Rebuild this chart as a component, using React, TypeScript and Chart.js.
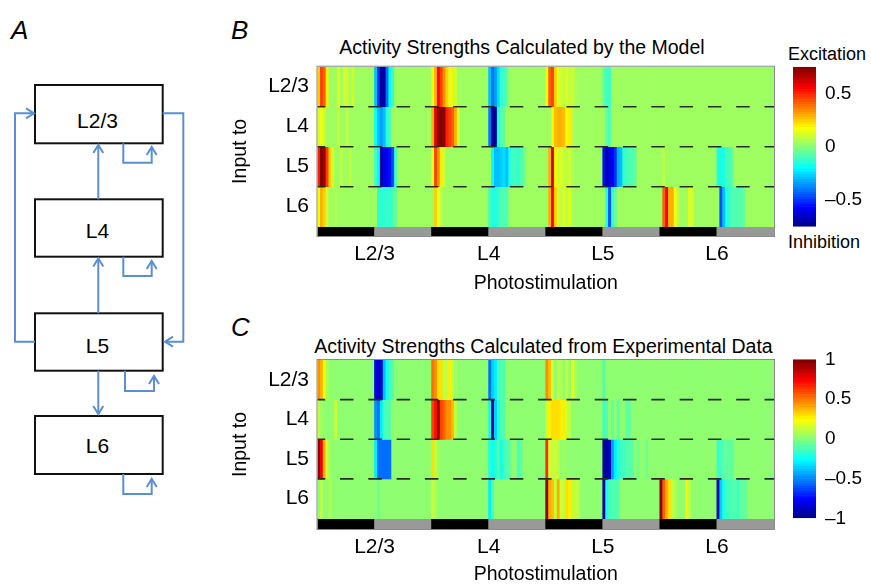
import React, { useEffect, useRef } from 'react';
import { Chart, registerables } from 'chart.js';

Chart.register(...registerables);

const FONT = '"Liberation Sans", Arial, Helvetica, sans-serif';
Chart.defaults.font.family = FONT;
Chart.defaults.color = '#000';

// ---------- data ----------
const LAYERS = ['L2/3', 'L4', 'L5', 'L6'];
const ROW_TICKS = [3.5, 2.5, 1.5, 0.5];
const ROW_BOUNDARIES = [1, 2, 3];
const GROUP_TICKS = [20, 60, 100, 140];
const COLS_PER_HALF = 20;
const STIM_SHADES = ['#000000', '#999999', '#000000', '#999999', '#000000', '#999999', '#000000', '#999999'];
const MODEL_CB_TICKS = [0.5, 0, -0.5];
const EXP_CB_TICKS = [1, 0.5, 0, -0.5, -1];
const MODEL_RANGE = 0.75;
const EXP_RANGE = 1;

// Panel B: model (rows: input to L2/3, L4, L5, L6; 160 columns = 4 stim layers x 2 halves x 20)
const MODEL_L23 = [
  0.25,0.45,0.4,0.2,0.03,0.03,0.03,0.12,0.03,0.1,
  0.1,0.03,0.1,0.03,0.03,0.03,0.03,0.03,0.03,0.03,
  -0.3,-0.5,-0.72,-0.72,-0.4,-0.2,-0.1,0.03,0.03,0.03,
  0.03,0.03,0.03,0.03,0.03,0.03,0.03,0.03,0.03,0.03,
  0.15,0.3,0.55,0.45,0.35,0.25,0.12,0.2,0.1,0.03,
  0.03,0.03,0.03,0.03,0.03,0.03,0.03,0.03,0.03,0.03,
  -0.3,-0.42,-0.35,-0.25,-0.12,-0.1,-0.05,0.03,0.03,0.03,
  0.03,0.03,0.03,0.03,0.03,0.03,0.03,0.03,0.03,0.03,
  0.15,0.4,0.45,0.25,0.12,0.1,0.08,0.12,0.08,0.1,
  0.05,0.03,0.03,0.03,0.03,0.03,0.03,0.03,0.03,0.03,
  -0.05,-0.1,-0.1,0.03,0.03,0.03,0.03,0.03,0.03,0.03,
  0.03,0.03,0.03,0.03,0.03,0.03,0.03,0.03,0.03,0.03,
  0.03,0.03,0.03,0.03,0.03,0.03,0.03,0.03,0.03,0.03,
  0.03,0.03,0.03,0.03,0.03,0.03,0.03,0.03,0.03,0.03,
  0.03,0.03,0.03,0.03,0.03,0.03,0.03,0.03,0.03,0.03,
  0.03,0.03,0.03,0.03,0.03,0.03,0.03,0.03,0.03,0.03,
];
const MODEL_L4 = [
  0.1,0.15,0.1,0.03,0.03,0.03,0.03,0.08,0.03,0.03,
  0.08,0.03,0.03,0.03,0.03,0.03,0.03,0.03,0.03,0.03,
  -0.2,-0.3,-0.35,-0.3,-0.15,-0.08,0.03,0.03,0.03,0.03,
  0.03,0.03,0.03,0.03,0.03,0.03,0.03,0.03,0.03,0.03,
  0.3,0.6,0.75,0.75,0.72,0.5,0.45,0.4,0.3,0.1,
  0.03,0.03,0.03,0.03,0.03,0.03,0.03,0.03,0.03,0.03,
  -0.4,-0.75,-0.72,-0.15,-0.08,-0.05,0.03,0.03,0.03,0.03,
  0.03,0.03,0.03,0.03,0.03,0.03,0.03,0.03,0.03,0.03,
  0.03,0.03,0.15,0.28,0.3,0.3,0.28,0.15,0.2,0.08,
  0.03,0.03,0.03,0.03,0.03,0.03,0.03,0.03,0.03,0.03,
  0.03,-0.05,-0.08,0.03,0.03,0.03,0.03,0.03,0.03,0.03,
  0.03,0.03,0.03,0.03,0.03,0.03,0.03,0.03,0.03,0.03,
  0.03,0.03,0.03,0.03,0.03,0.03,0.03,0.03,0.03,0.03,
  0.03,0.03,0.03,0.03,0.03,0.03,0.03,0.03,0.03,0.03,
  0.03,0.03,0.03,0.03,0.03,0.03,0.03,0.03,0.03,0.03,
  0.03,0.03,0.03,0.03,0.03,0.03,0.03,0.03,0.03,0.03,
];
const MODEL_L5 = [
  0.5,0.75,0.7,0.45,0.25,0.1,0.03,0.03,0.08,0.03,
  0.03,0.08,0.03,0.03,0.03,0.03,0.03,0.03,0.03,0.03,
  -0.1,-0.2,-0.68,-0.6,-0.6,-0.55,-0.45,-0.1,0.03,0.03,
  0.03,0.03,0.03,0.03,0.03,0.03,0.03,0.03,0.03,0.03,
  0.15,0.45,0.35,0.2,0.1,0.03,0.03,0.03,0.03,0.03,
  0.03,0.03,0.03,0.03,0.03,0.03,0.03,0.03,0.03,0.03,
  0.03,-0.2,-0.3,-0.3,-0.28,-0.25,-0.3,-0.15,-0.1,-0.1,
  -0.12,-0.08,-0.05,0.03,0.03,0.03,0.03,0.03,0.03,0.03,
  0.03,0.3,0.62,0.2,0.1,0.12,0.08,0.08,0.1,0.05,
  0.03,0.03,0.03,0.03,0.03,0.03,0.03,0.03,0.03,0.03,
  -0.55,-0.68,-0.62,-0.6,-0.5,-0.32,-0.3,-0.12,-0.1,-0.08,
  -0.08,-0.05,0.03,0.03,0.03,0.03,0.03,0.03,0.03,0.03,
  0.03,0.08,0.03,0.03,0.03,0.03,0.03,0.03,0.03,0.03,
  0.03,0.03,0.03,0.03,0.03,0.03,0.03,0.03,0.03,0.03,
  -0.15,-0.18,-0.15,-0.1,-0.1,-0.05,0.03,0.03,0.03,0.03,
  0.03,0.03,0.03,0.03,0.03,0.03,0.03,0.03,0.03,0.03,
];
const MODEL_L6 = [
  0.15,0.3,0.25,0.1,0.03,0.03,0.06,0.03,0.03,0.03,
  0.03,0.03,0.03,0.03,0.03,0.03,0.03,0.03,0.03,0.03,
  0.03,-0.12,-0.12,-0.12,-0.12,-0.12,-0.1,-0.05,0.03,0.03,
  0.03,0.03,0.03,0.03,0.03,0.03,0.03,0.03,0.03,0.03,
  0.03,0.25,0.15,0.08,0.03,0.03,0.03,0.03,0.03,0.03,
  0.03,0.03,0.03,0.03,0.03,0.03,0.03,0.03,0.03,0.03,
  -0.1,-0.15,-0.15,-0.12,-0.08,-0.08,-0.08,0.03,0.03,0.03,
  0.03,0.03,0.03,0.03,0.03,0.03,0.03,0.03,0.03,0.03,
  0.03,0.3,0.55,0.25,0.1,0.08,0.12,0.08,0.12,0.06,
  0.03,0.03,0.03,0.03,0.03,0.03,0.03,0.03,0.03,0.03,
  0.03,-0.15,-0.45,-0.12,-0.05,0.03,0.03,0.03,0.03,0.03,
  0.03,0.03,0.03,0.03,0.03,0.03,0.03,0.03,0.03,0.03,
  0.03,0.4,0.55,0.3,0.3,0.15,0.08,0.03,0.03,0.03,
  0.12,0.1,0.03,0.03,0.03,0.03,0.03,0.03,0.03,0.03,
  0.03,-0.45,-0.3,-0.15,-0.12,-0.08,-0.08,-0.08,-0.08,-0.05,
  0.03,0.03,0.03,0.03,0.03,0.03,0.03,0.03,0.03,0.03,
];

// Panel C: experimental data
const EXP_L23 = [
  0.45,0.4,0.2,0.08,0,0,0,0,0,0,
  0,0,0,0,0,0,0,0,0,0,
  -0.8,-0.9,-0.85,-0.4,-0.25,-0.15,-0.1,0,0,0,
  0,0,0,0,0,0,0,0,0,0,
  0.5,0.45,0.3,0.3,0.12,0.12,0.25,0.12,0.05,0,
  0,0,0,0,0,0,0,0,0,0,
  -0.55,-0.35,-0.3,-0.15,-0.12,-0.1,0,0,0,0,
  0,0,0,0,0,0,0,0,0,0,
  0.45,0.35,0.15,0,0.1,0.08,0,0.1,0,0.2,
  0.08,0,0,0,0,0,0,0,0,0,
  -0.12,0,0,0,0,0,0,0,0,0,
  0,0,0,0,0,0,0,0,0,0,
  0,0,0,0,0,0,0,0,0,0,
  0,0,0,0,0,0,0,0,0,0,
  0,0,0,0,0,0,0,0,0,0,
  0,0,0,0,0,0,0,0,0,0,
];
const EXP_L4 = [
  0.1,0.05,0,0,0,0,0.15,0,0,0,
  0,0,0,0,0,0,0,0,0,0,
  -0.5,-0.55,-0.3,-0.15,-0.12,-0.1,0,0,0,0,
  0,0,0,0,0,0,0,0,0,0,
  0.6,0.7,0.95,0.6,0.55,0.45,0.45,0.35,0.12,0,
  0,0,0,0,0,0,0,0,0,0,
  -0.25,-0.95,-0.35,-0.2,-0.12,-0.1,0,0,0,0,
  0,0,0,0,0,0,0,0,0,0,
  0.15,0.28,0.3,0.3,0.3,0.25,0.25,0.15,0.1,0,
  0,0,0,0,0,0,0,0,0,0,
  -0.15,-0.1,0,-0.08,0,-0.08,0,0,-0.08,-0.08,
  0,0,0,0,0,0,0,0,0,0,
  0,0,0,0,0,0,0,0,0,0,
  0,0,0,0,0,0,0,0,0,0,
  0,0,0,0,0,0,0,0,0,0,
  0,0,0,0,0,0,0,0,0,0,
];
const EXP_L5 = [
  0.95,0.75,0.4,0.15,0.05,0,0,0,0,0,
  0,0,0,0,0,0,0,0,0,0,
  -0.3,-0.55,-0.55,-0.55,-0.55,-0.55,0,0,0,0,
  0,0,0,0,0,0,0,0,0,0,
  0.3,0.12,0.05,0,0,0,0,0,0,0,
  0,0,0,0,0,0,0,0,0,0,
  -0.2,-0.25,-0.2,-0.12,-0.25,-0.15,-0.1,-0.08,0,0,
  -0.12,-0.08,0,0,0,0,0,0,0,0,
  0.65,0.15,0.1,0.15,0.1,0,0.05,0,0,0,
  0,0,0,0,0,0,0,0,0,0,
  -0.95,-0.95,-0.9,-0.45,-0.3,-0.2,-0.15,-0.15,-0.12,-0.1,
  -0.08,0,-0.05,0,0,-0.05,0,0,0,0,
  0,0,0,0,0,0,0,0,0,0,
  0,0,0,0,0,0,0,0,0,0,
  -0.15,-0.15,-0.08,-0.08,-0.08,-0.08,0,0,0,0,
  0,0,0,0,0,0,0,0,0,0,
];
const EXP_L6 = [
  0,0.12,0,0,0.08,0,0,0,0,0,
  0,0,0,0,0,0,0,0,0,0,
  0,-0.05,0,0,0,0,0,0,0,0,
  0,0,0,0,0,0,0,0,0,0,
  0.1,0.08,0,0,0,0,0,0,0,0,
  0,0,0,0,0,0,0,0,0,0,
  -0.3,-0.12,0,0,0,0,0,0,0,0,
  0,0,0,0,0,0,0,0,0,0,
  0.95,0.4,0.35,0.12,0.4,0.15,0.12,0.3,0.25,0.12,
  0.1,0.1,0,0,0,0,0,0,0,0,
  -0.95,-0.2,-0.15,-0.12,-0.1,-0.1,0,0,0,0,
  0,0,0,0,0,0,0,0,0,0,
  0.95,0.55,0.4,0.3,0.12,0.08,0,0,0,0.25,
  0.1,0,0,0,0,0,0,0,0,0,
  -0.9,-0.35,-0.2,-0.15,-0.15,-0.12,-0.1,-0.15,-0.08,-0.08,
  -0.05,0,0,0,0,0,0,0,0,0,
];

const MODEL_ROWS = [MODEL_L23, MODEL_L4, MODEL_L5, MODEL_L6];
const EXP_ROWS = [EXP_L23, EXP_L4, EXP_L5, EXP_L6];

// ---------- colour map (MATLAB jet, 64 levels) ----------
function jetU(k: number) {
  if (k < 1 || k > 47) return 0;
  if (k <= 16) return k / 16;
  if (k <= 31) return 1;
  return (48 - k) / 16;
}
function jetIndexColor(idx: number) {
  const r = idx >= 25 ? jetU(idx - 24) : 0;
  const g = idx >= 9 && idx <= 55 ? jetU(idx - 8) : 0;
  const b = idx <= 39 ? jetU(idx + 8) : 0;
  return `rgb(${Math.round(r * 255)},${Math.round(g * 255)},${Math.round(b * 255)})`;
}
function jet(v: number, min: number, max: number) {
  let idx = Math.floor(((v - min) / (max - min)) * 64) + 1;
  if (!isFinite(idx)) idx = 33;
  idx = Math.max(1, Math.min(64, idx));
  return jetIndexColor(idx);
}
function fmtTick(v: number) {
  if (v === 0) return '0';
  return v < 0 ? '\u2013' + String(Math.abs(v)) : String(v);
}

const framePlugin = {
  id: 'heatFrame',
  afterDatasetsDraw(chart: any) {
    const { ctx, chartArea: a, scales } = chart;
    const y = scales.y;
    ctx.save();
    ctx.strokeStyle = '#2a2a2a';
    ctx.lineWidth = 1.6;
    ctx.setLineDash([13.5, 14.8]);
    ctx.lineDashOffset = 5.8;
    for (const b of ROW_BOUNDARIES) {
      const py = y.getPixelForValue(b);
      ctx.beginPath();
      ctx.moveTo(a.left, py);
      ctx.lineTo(a.right, py);
      ctx.stroke();
    }
    ctx.setLineDash([]);
    ctx.strokeStyle = '#8c8c8c';
    ctx.lineWidth = 1;
    ctx.strokeRect(a.left - 0.5, a.top - 0.5, a.right - a.left + 1, a.bottom - a.top + 1);
    ctx.restore();
  },
};

type HeatProps = {
  rows: number[][];
  vmax: number;
  yMin: number;
  left: number; top: number; width: number; height: number;
  padTop: number; padRight: number;
  yAxisWidth: number; xAxisHeight: number; xTitlePadBottom: number;
};

function Heatmap(p: HeatProps) {
  const ref = useRef<HTMLCanvasElement>(null);
  useEffect(() => {
    if (!ref.current) return;
    const barStyle = {
      grouped: false, barPercentage: 1, categoryPercentage: 1,
      borderWidth: 0, inflateAmount: 0.4,
    };
    const datasets: any[] = p.rows.map((vals, r) => ({
      data: vals.map((_, i) => ({ x: i + 0.5, y: [LAYERS.length - 1 - r, LAYERS.length - r] })),
      backgroundColor: vals.map((v) => jet(v, -p.vmax, p.vmax)),
      ...barStyle,
    }));
    datasets.push({
      data: p.rows[0].map((_, i) => ({ x: i + 0.5, y: [p.yMin, 0] })),
      backgroundColor: p.rows[0].map((_, i) => STIM_SHADES[Math.floor(i / COLS_PER_HALF)]),
      ...barStyle,
    });
    const nCols = p.rows[0].length;
    const chart = new Chart(ref.current, {
      type: 'bar',
      data: { datasets },
      options: {
        animation: false,
        responsive: false,
        maintainAspectRatio: false,
        layout: { padding: { top: p.padTop, right: p.padRight, left: 0, bottom: 0 } },
        plugins: { legend: { display: false }, tooltip: { enabled: false }, title: { display: false } },
        scales: {
          x: {
            type: 'linear', min: 0, max: nCols, offset: false,
            grid: { display: false, drawTicks: false },
            border: { display: false },
            ticks: {
              autoSkip: false, maxRotation: 0, minRotation: 0, padding: 6,
              font: { size: 21 }, color: '#000',
              callback: (v: any) => {
                const k = GROUP_TICKS.indexOf(Number(v));
                return k >= 0 ? LAYERS[k] : '';
              },
            },
            title: { display: true, text: 'Photostimulation', font: { size: 19.5 }, color: '#000', padding: { top: 0, bottom: p.xTitlePadBottom } },
            afterBuildTicks: (s: any) => { s.ticks = GROUP_TICKS.map((v) => ({ value: v })); },
            afterFit: (s: any) => {
              s.height = p.xAxisHeight;
              s.paddingLeft = 0; s.paddingRight = 0; s.paddingTop = 0; s.paddingBottom = 0;
            },
          },
          y: {
            type: 'linear', min: p.yMin, max: LAYERS.length,
            grid: { display: false, drawTicks: false },
            border: { display: false },
            ticks: {
              autoSkip: false, padding: 8.5, font: { size: 21 }, color: '#000',
              callback: (v: any) => {
                const k = ROW_TICKS.indexOf(Number(v));
                return k >= 0 ? LAYERS[k] : '';
              },
            },
            title: { display: true, text: 'Input to', font: { size: 19.5 }, color: '#000', padding: { top: 14.3, bottom: 0 } },
            afterBuildTicks: (s: any) => { s.ticks = ROW_TICKS.map((v) => ({ value: v })); },
            afterFit: (s: any) => {
              s.width = p.yAxisWidth;
              s.paddingLeft = 0; s.paddingRight = 0; s.paddingTop = 0; s.paddingBottom = 0;
            },
          },
        },
      } as any,
      plugins: [framePlugin],
    });
    return () => chart.destroy();
  }, []);
  return (
    <canvas
      ref={ref}
      width={p.width}
      height={p.height}
      style={{ position: 'absolute', left: p.left, top: p.top, width: p.width, height: p.height }}
    />
  );
}

type CbProps = {
  vmax: number; ticks: number[];
  left: number; top: number; width: number; height: number;
  padLeft: number; padTop: number; padBottom: number; axisWidth: number;
};

function Colorbar(p: CbProps) {
  const ref = useRef<HTMLCanvasElement>(null);
  useEffect(() => {
    if (!ref.current) return;
    const chart = new Chart(ref.current, {
      type: 'bar',
      data: {
        labels: [''],
        datasets: [{
          data: [[-p.vmax, p.vmax]] as any,
          backgroundColor: (c: any) => {
            const area = c.chart.chartArea;
            if (!area) return 'transparent';
            const g = c.chart.ctx.createLinearGradient(0, area.bottom, 0, area.top);
            for (let i = 1; i <= 64; i++) {
              const col = jetIndexColor(i);
              g.addColorStop((i - 1) / 64, col);
              g.addColorStop(Math.min(1, i / 64 - 0.0001), col);
            }
            return g;
          },
          barPercentage: 1, categoryPercentage: 1, borderWidth: 0, inflateAmount: 0,
        }],
      },
      options: {
        animation: false,
        responsive: false,
        maintainAspectRatio: false,
        layout: { padding: { left: p.padLeft, top: p.padTop, bottom: p.padBottom, right: 0 } },
        plugins: { legend: { display: false }, tooltip: { enabled: false } },
        scales: {
          x: { display: false },
          y: {
            position: 'right', min: -p.vmax, max: p.vmax,
            grid: { display: false, drawTicks: false },
            border: { display: false },
            ticks: { autoSkip: false, padding: 9, font: { size: 19 }, color: '#000', callback: (v: any) => fmtTick(Number(v)) },
            afterBuildTicks: (s: any) => { s.ticks = p.ticks.map((v) => ({ value: v })); },
            afterFit: (s: any) => {
              s.width = p.axisWidth;
              s.paddingTop = 0; s.paddingBottom = 0; s.paddingLeft = 0; s.paddingRight = 0;
            },
          },
        },
      } as any,
    });
    return () => chart.destroy();
  }, []);
  return (
    <canvas
      ref={ref}
      width={p.width}
      height={p.height}
      style={{ position: 'absolute', left: p.left, top: p.top, width: p.width, height: p.height }}
    />
  );
}

const BLUE = '#5a8fd0';

function Diagram() {
  const boxes = [
    { label: 'L2/3', y: 85, h: 58.3, ty: 127.5 },
    { label: 'L4', y: 199.3, h: 57.4, ty: 238 },
    { label: 'L5', y: 313.3, h: 57.4, ty: 353 },
    { label: 'L6', y: 416, h: 58, ty: 453 },
  ];
  return (
    <svg width={210} height={520} style={{ position: 'absolute', left: 0, top: 0 }}>
      {boxes.map((b) => (
        <g key={b.label}>
          <rect x={35} y={b.y} width={127.7} height={b.h} fill="#fff" stroke="#111" strokeWidth={2} />
          <text x={97.5} y={b.ty} fontSize={21} textAnchor="middle" fontFamily={FONT} fill="#000">{b.label}</text>
        </g>
      ))}
      <g fill="none" stroke={BLUE} strokeWidth={2}>
        <polyline points="35,341.7 15,341.7 15,113.3 34,113.3" />
        <polyline points="26,108.3 34,113.3 26,118.3" />
        <polyline points="162.7,113.3 183.3,113.3 183.3,341.7 165,341.7" />
        <polyline points="173,336.7 165,341.7 173,346.7" />
        <polyline points="98.3,199.3 98.3,145" />
        <polyline points="93.3,153 98.3,145 103.3,153" />
        <polyline points="98.3,313.3 98.3,258.5" />
        <polyline points="93.3,266.5 98.3,258.5 103.3,266.5" />
        <polyline points="98.3,370.7 98.3,414" />
        <polyline points="93.3,406 98.3,414 103.3,406" />
        <polyline points="123.3,143.3 123.3,162.7 151.7,162.7 151.7,147" />
        <polyline points="146.7,155 151.7,147 156.7,155" />
        <polyline points="123.3,256.7 123.3,276 151.7,276 151.7,261" />
        <polyline points="146.7,269 151.7,261 156.7,269" />
        <polyline points="125,370.7 125,391 154,391 154,376" />
        <polyline points="149,384 154,376 159,384" />
        <polyline points="123.3,474 123.3,494 151.7,494 151.7,479" />
        <polyline points="146.7,487 151.7,479 156.7,487" />
      </g>
    </svg>
  );
}

function Text(props: { text: string; left: number; top: number; size: number; italic?: boolean; center?: boolean }) {
  return (
    <div
      style={{
        position: 'absolute', left: props.left, top: props.top,
        fontSize: props.size, lineHeight: `${props.size}px`,
        fontStyle: props.italic ? 'italic' : 'normal',
        whiteSpace: 'nowrap',
        transform: props.center ? 'translateX(-50%)' : undefined,
      }}
    >
      {props.text}
    </div>
  );
}

export default function App() {
  return (
    <div
      style={{
        position: 'absolute', left: 0, top: 0, width: 871, height: 586, overflow: 'hidden',
        background: '#fff', fontFamily: FONT, color: '#000',
      }}
    >
      <Diagram />
      <Text text="A" left={11} top={17} size={26} italic />
      <Text text="B" left={231} top={17} size={26} italic />
      <Text text="C" left={231} top={314} size={26} italic />
      <Text text="Activity Strengths Calculated by the Model" left={522} top={37.5} size={19.5} center />
      <Text text="Activity Strengths Calculated from Experimental Data" left={543.5} top={336.5} size={19.5} center />
      <Text text="Excitation" left={788} top={44.8} size={18} />
      <Text text="Inhibition" left={788} top={233} size={18} />
      <Heatmap
        rows={MODEL_ROWS} vmax={MODEL_RANGE} yMin={-0.2325}
        left={215} top={60} width={570} height={240}
        padTop={6.7} padRight={11} yAxisWidth={102.5} xAxisHeight={64} xTitlePadBottom={4.3}
      />
      <Heatmap
        rows={EXP_ROWS} vmax={EXP_RANGE} yMin={-0.265}
        left={215} top={350} width={570} height={236}
        padTop={10} padRight={11} yAxisWidth={102.5} xAxisHeight={57} xTitlePadBottom={0}
      />
      <Colorbar
        vmax={MODEL_RANGE} ticks={MODEL_CB_TICKS}
        left={780} top={60} width={91} height={180}
        padLeft={13} padTop={6.7} padBottom={13.3} axisWidth={55}
      />
      <Colorbar
        vmax={EXP_RANGE} ticks={EXP_CB_TICKS}
        left={780} top={345} width={91} height={190}
        padLeft={13} padTop={14.3} padBottom={16.7} axisWidth={55}
      />
    </div>
  );
}
